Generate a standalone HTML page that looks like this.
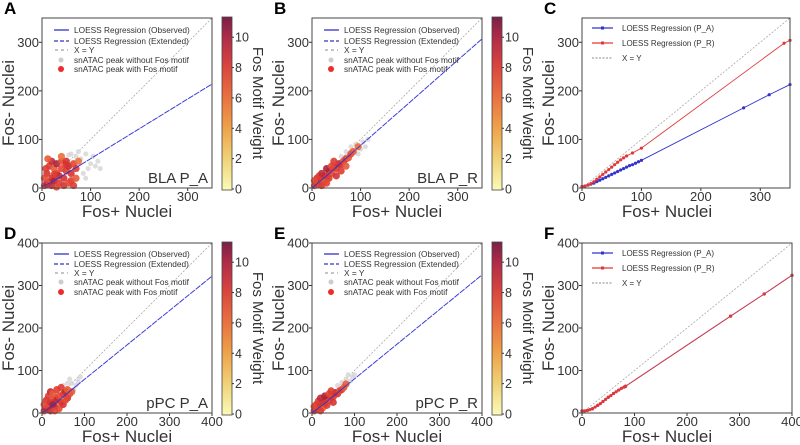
<!DOCTYPE html>
<html><head><meta charset="utf-8"><style>
html,body{margin:0;padding:0;background:#fff;}
svg{display:block;font-family:"Liberation Sans",Arial,sans-serif;}
</style></head><body>
<svg id="fig" width="800" height="445" viewBox="0 0 800 445" xmlns="http://www.w3.org/2000/svg">
<defs>
<linearGradient id="cbg" x1="0" y1="1" x2="0" y2="0">
<stop offset="0" stop-color="#fafab8"/><stop offset="0.18" stop-color="#f0d278"/>
<stop offset="0.36" stop-color="#eea24a"/><stop offset="0.54" stop-color="#ea7040"/>
<stop offset="0.72" stop-color="#d8443e"/><stop offset="0.88" stop-color="#b02c48"/>
<stop offset="1" stop-color="#7a2046"/></linearGradient>
</defs>
</svg>
<script>
// ---- data ----
const ticks350 = [0,100,200,300];
const ticks400 = [0,100,200,300,400];
const cbTicks = [0,2,4,6,8,10];
const redA = [[5,5,6],[10,8,8],[15,12,5],[20,20,7],[25,15,9],[30,30,6],[35,25,8],[40,40,5],[45,20,7],[50,35,6],[55,45,8],[60,30,7],[65,50,5],[70,40,6],[10,30,7],[15,45,6],[20,55,8],[25,40,4],[30,50,9],[35,10,6],[40,55,5],[50,55,7],[60,15,6],[70,20,4],[5,20,5],[8,40,6],[45,5,7],[55,10,5],[75,55,3],[65,5,6],[20,5,8],[30,2,5],[12,60,4],[40,65,3],[50,48,7],[25,28,6]];
const greyA = [[80,60],[90,70],[100,50],[110,45],[120,40],[85,30],[95,40],[60,70],[70,65],[105,65],[90,20],[115,55],[75,75],[55,68]];
const redB = [[5,5,6],[10,10,8],[15,8,5],[20,18,7],[25,25,9],[30,22,6],[35,35,8],[40,30,5],[45,42,7],[50,40,6],[55,50,8],[60,48,7],[65,55,5],[70,60,6],[75,62,4],[80,70,5],[10,20,7],[15,25,6],[20,30,8],[25,12,4],[30,40,9],[35,20,6],[40,45,5],[50,25,7],[60,35,6],[70,45,4],[5,15,5],[45,55,6],[85,75,4],[95,85,3],[20,5,6],[30,10,5]];
const greyB = [[90,90],[100,80],[105,95],[110,85],[80,85],[70,75],[95,70],[60,65],[115,100]];
const redD = [[5,5,6],[10,10,8],[15,15,5],[20,25,7],[25,20,9],[30,35,6],[35,30,8],[40,40,5],[45,25,7],[50,45,6],[55,50,8],[60,35,7],[65,45,5],[10,30,7],[15,40,6],[20,50,8],[25,45,4],[30,15,9],[35,55,6],[40,10,5],[50,20,7],[5,20,5],[45,60,6],[55,30,5],[60,55,4],[20,5,8],[30,5,5],[70,50,4]];
const greyD = [[70,70],[80,65],[85,75],[60,70],[75,55],[90,85],[50,65],[65,80]];
const redE = [[5,5,6],[10,10,8],[15,12,5],[20,20,7],[25,25,9],[30,22,6],[35,35,8],[40,30,5],[45,40,7],[50,38,6],[55,48,8],[60,45,7],[65,52,5],[70,55,6],[10,20,7],[15,28,6],[20,35,8],[25,12,4],[30,40,9],[35,18,6],[40,45,5],[50,25,7],[5,15,5],[45,52,6],[75,60,4],[20,5,6],[80,68,4]];
const greyE = [[80,80],[90,75],[70,72],[85,90],[60,65],[95,85],[100,90]];
const loessAx=[0,20,50,80,350], loessAy=[3,12,30,48,214];
const loessBx=[0,30,80,350], loessBy=[0,25,70,307];
const loessDx=[0,30,80,400], loessDy=[0,22,63,322];
const loessEx=[0,30,80,400], loessEy=[0,23,64,325];
const cBlueX=[0,5,10,15,20,25,30,35,40,45,50,55,60,65,70,75,80,85,90,95,100,272,315,350];
const cBlueY=[3,4,6,8,10,13,16,19,22,25,28,31,34,37,40,43,46,48,51,54,57,165,192,213];
const cRedX=[0,5,10,15,20,25,30,35,40,45,50,55,60,65,70,75,85,100,340,350];
const cRedY=[3,4,6,9,13,18,23,28,33,38,43,48,53,58,62,66,72,82,298,304];
const fBlueX=[0,10,20,30,40,50,60,70,80,83,283,347,400];
const fBlueY=[5,6,10,18,27,37,46,54,61,63,228,280,324];
const fRedX=[0,5,10,15,20,25,30,35,40,45,50,55,60,65,70,75,80,83,283,347,400];
const fRedY=[5,5,6,8,10,14,18,22,27,32,37,41,46,50,54,58,61,63,228,280,324];

// ---- helpers ----
const NS="http://www.w3.org/2000/svg", svg=document.getElementById('fig');
function el(tag,attrs,parent,text){const e=document.createElementNS(NS,tag);for(const k in attrs)e.setAttribute(k,attrs[k]);if(text!==undefined)e.textContent=text;(parent||svg).appendChild(e);return e;}
function wColor(w){const c=[[0,[240,160,90]],[3,[236,110,60]],[5,[228,70,50]],[7,[214,50,48]],[9,[170,36,60]],[11.3,[120,28,60]]];
 for(let i=1;i<c.length;i++){if(w<=c[i][0]){const t=(w-c[i-1][0])/(c[i][0]-c[i-1][0]);const a=c[i-1][1],b=c[i][1];return 'rgb('+a.map((v,j)=>Math.round(v+(b[j]-v)*t)).join(',')+')';}}return 'rgb(120,28,60)';}

function axes(P){
 const g=el('g',{});
 
 
 const sx=v=>P.x0+v/P.max*P.w, sy=v=>P.y0+P.h-v/P.max*P.h;
 P.sx=sx;P.sy=sy;P.g=g;
 const lab=el('text',{x:P.x0-38,y:P.y0-4,'font-size':17,'font-weight':'bold'},g,P.id);
 
 
 const d=el('line',{x1:sx(0),y1:sy(0),x2:sx(P.max),y2:sy(P.max),stroke:'#aaa','stroke-width':0.8,'stroke-dasharray':'2,1.5'},g);
 
 
 P.ticks.forEach(t=>{
  el('line',{x1:sx(t),y1:P.y0+P.h,x2:sx(t),y2:P.y0+P.h+3,stroke:'#333'},g);
  el('line',{x1:P.x0-3,y1:sy(t),x2:P.x0,y2:sy(t),stroke:'#333'},g);
  const xl=el('text',{x:sx(t),y:P.y0+P.h+13,'font-size':13,'text-anchor':'middle',fill:'#333'},g,t);
  
  
  const yl=el('text',{x:P.x0-3,y:sy(t)+4.5,'font-size':13,'text-anchor':'end',fill:'#333'},g,t);
  
  
 });
 const xt=el('text',{x:P.x0+85,y:P.y0+P.h+29,'font-size':17,'text-anchor':'middle',fill:'#333'},g,'Fos+ Nuclei');
 
 
 const yc=P.y0+P.h/2;
 const yt=el('text',{x:P.x0-28,y:yc,'font-size':17,'text-anchor':'middle',fill:'#333',transform:'rotate(-90 '+(P.x0-28)+' '+yc+')'},g,'Fos- Nuclei');
 
 
 return g;
}
function frame(P){const r=el('rect',{x:P.x0,y:P.y0,width:P.w,height:P.h,fill:'none',stroke:'#444','stroke-width':1},P.g);
 
 }

function scatterPanel(P,red,grey,lx,ly,name){
 const g=axes(P);
 grey.forEach(p=>{const c=el('circle',{cx:P.sx(p[0]),cy:P.sy(p[1]),r:2.5,fill:'#d4d4d4',opacity:0.8},g);
  
  });
 red.forEach(p=>{const c=el('circle',{cx:P.sx(p[0]),cy:P.sy(p[1]),r:3.6,fill:wColor(p[2]),opacity:0.9},g);
  
  });
 const pts=lx.map((x,i)=>P.sx(x)+','+P.sy(ly[i]));
 const l1=el('polyline',{points:pts.slice(0,lx.length-1).join(' '),fill:'none',stroke:'#3333cc','stroke-width':1},g);
 
 
 const l2=el('polyline',{points:pts.slice(lx.length-2).join(' '),fill:'none',stroke:'#3d3dd8','stroke-width':1,'stroke-dasharray':'6,1'},g);
 
 
 const lg=el('g',{},g);
 
 
 const rows=['LOESS Regression (Observed)','LOESS Regression (Extended)','X = Y','snATAC peak without Fos motif','snATAC peak with Fos motif'];
 const ys=P.legY;
 rows.forEach((t,i)=>{const y=ys[i];
  if(i==0)el('line',{x1:P.x0+12,y1:y,x2:P.x0+27,y2:y,stroke:'#3333cc','stroke-width':1.3},lg);
  if(i==1)el('line',{x1:P.x0+12,y1:y,x2:P.x0+27,y2:y,stroke:'#3333cc','stroke-width':1.3,'stroke-dasharray':'4,2'},lg);
  if(i==2)el('line',{x1:P.x0+13,y1:y,x2:P.x0+26,y2:y,stroke:'#888','stroke-width':1,'stroke-dasharray':'3,3'},lg);
  if(i==3)el('circle',{cx:P.x0+19,cy:y,r:2.5,fill:'#ccc'},lg);
  if(i==4)el('circle',{cx:P.x0+19,cy:y,r:3,fill:'#ee2a2a'},lg);
  const tx=el('text',{x:P.x0+32,y:y+3,'font-size':8.3,fill:'#333'},lg,t);
  
  
 });
 const nm=el('text',{x:P.x0+P.w-4,y:P.y0+P.h-5,'font-size':15,'text-anchor':'end',fill:'#333'},g,name);
 
 
 frame(P);
 const cx=P.x0+P.w+10, cb=el('g',{},g);
 
 
 el('rect',{x:cx,y:P.y0-1,width:10,height:P.h+3,fill:'url(#cbg)',stroke:'#444','stroke-width':0.8},cb);
 const cs=v=>P.y0+P.h+1-v/11.33*(P.h+2);
 cbTicks.forEach(t=>{el('line',{x1:cx+10,y1:cs(t),x2:cx+12,y2:cs(t),stroke:'#333'},cb);
  const tl=el('text',{x:cx+13,y:cs(t)+4.5,'font-size':12.5,fill:'#333'},cb,t);
  
  });
 const tx=cx+31, ty=P.y0+P.h/2;
 const ct=el('text',{x:tx,y:ty,'font-size':15,'text-anchor':'middle',fill:'#333',transform:'rotate(90 '+tx+' '+ty+')'},cb,'Fos Motif Weight');
 
 
}
function linePanel(P,bx,by,rx,ry){
 const g=axes(P);
 [[bx,by,'#3333cc','line-p-a'],[rx,ry,'#e03838','line-p-r']].forEach(s=>{
  const l=el('polyline',{points:s[0].map((x,i)=>P.sx(x)+','+P.sy(s[1][i])).join(' '),fill:'none',stroke:s[2],'stroke-width':0.9},g);
  
  
  s[0].forEach((x,i)=>{const c=el('circle',{cx:P.sx(x),cy:P.sy(s[1][i]),r:1.6,fill:s[2]},g);
   
   });
 });
 const lg=el('g',{},g);
 
 
 const rows=[['LOESS Regression (P_A)','#3333cc'],['LOESS Regression (P_R)','#e03838'],['X = Y','#888']];
 rows.forEach((r,i)=>{const y=P.legY[i];
  el('line',{x1:P.x0+10,y1:y,x2:P.x0+31,y2:y,stroke:r[1],'stroke-width':i<2?1.2:1,'stroke-dasharray':i==2?'2,1.5':'none'},lg);
  if(i<2)el('rect',{x:P.x0+19,y:y-1.5,width:3,height:3,fill:r[1]},lg);
  const tx=el('text',{x:P.x0+40,y:y+3,'font-size':8,fill:'#333'},lg,r[0]);
  
  });
 frame(P);
}
scatterPanel({id:'A',x0:42,y0:18,w:170,h:170,max:350,ticks:ticks350,legY:[30,41,50,60,69]},redA,greyA,loessAx,loessAy,'BLA P_A');
scatterPanel({id:'B',x0:312,y0:18,w:170,h:170,max:350,ticks:ticks350,legY:[30,41,50,60,69]},redB,greyB,loessBx,loessBy,'BLA P_R');
linePanel({id:'C',x0:582,y0:18,w:208,h:170,max:350,ticks:ticks350,legY:[28,43,58]},cBlueX,cBlueY,cRedX,cRedY);
scatterPanel({id:'D',x0:42,y0:243,w:170,h:170,max:400,ticks:ticks400,legY:[254,264,273,282,292]},redD,greyD,loessDx,loessDy,'pPC P_A');
scatterPanel({id:'E',x0:312,y0:243,w:170,h:170,max:400,ticks:ticks400,legY:[254,264,273,282,292]},redE,greyE,loessEx,loessEy,'pPC P_R');
linePanel({id:'F',x0:582,y0:243,w:210,h:170,max:400,ticks:ticks400,legY:[253,268,283]},fBlueX,fBlueY,fRedX,fRedY);
</script>
</body></html>
